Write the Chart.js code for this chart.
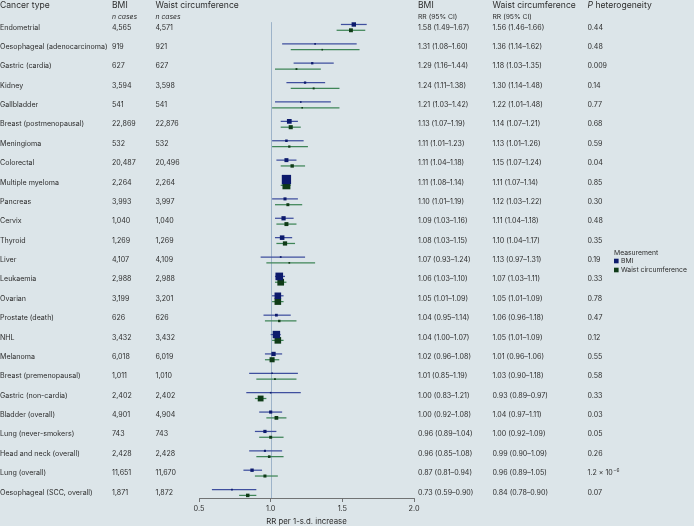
<!DOCTYPE html>
<html><head><meta charset="utf-8">
<script src="https://cdn.jsdelivr.net/npm/chart.js@4"></script>
<style>html,body{margin:0;padding:0;background:#dce5e9;}canvas{display:block;}</style>
</head><body>
<canvas id="c" width="694" height="526"></canvas>
<script>
const cancers = ['Endometrial','Oesophageal (adenocarcinoma)','Gastric (cardia)','Kidney','Gallbladder','Breast (postmenopausal)','Meningioma','Colorectal','Multiple myeloma','Pancreas','Cervix','Thyroid','Liver','Leukaemia','Ovarian','Prostate (death)','NHL','Melanoma','Breast (premenopausal)','Gastric (non-cardia)','Bladder (overall)','Lung (never-smokers)','Head and neck (overall)','Lung (overall)','Oesophageal (SCC, overall)'];
const nBMI = [4565,919,627,3594,541,22869,532,20487,2264,3993,1040,1269,4107,2988,3199,626,3432,6018,1011,2402,4901,743,2428,11651,1871];
const nWaist = [4571,921,627,3598,541,22876,532,20496,2264,3997,1040,1269,4109,2988,3201,626,3432,6019,1010,2402,4904,743,2428,11670,1872];
const bmiRR = [1.58,1.31,1.29,1.24,1.21,1.13,1.11,1.11,1.11,1.10,1.09,1.08,1.07,1.06,1.05,1.04,1.04,1.02,1.01,1.00,1.00,0.96,0.96,0.87,0.73];
const bmiLo = [1.49,1.08,1.16,1.11,1.03,1.07,1.01,1.04,1.08,1.01,1.03,1.03,0.93,1.03,1.01,0.95,1.00,0.96,0.85,0.83,0.92,0.89,0.85,0.81,0.59];
const bmiHi = [1.67,1.60,1.44,1.38,1.42,1.19,1.23,1.18,1.14,1.19,1.16,1.15,1.24,1.10,1.09,1.14,1.07,1.08,1.19,1.21,1.08,1.04,1.08,0.94,0.90];
const waistRR = [1.56,1.36,1.18,1.30,1.22,1.14,1.13,1.15,1.11,1.12,1.11,1.10,1.13,1.07,1.05,1.06,1.05,1.01,1.03,0.93,1.04,1.00,0.99,0.96,0.84];
const waistLo = [1.46,1.14,1.03,1.14,1.01,1.07,1.01,1.07,1.07,1.03,1.04,1.04,0.97,1.03,1.01,0.96,1.01,0.96,0.90,0.89,0.97,0.92,0.90,0.89,0.78];
const waistHi = [1.66,1.62,1.35,1.48,1.48,1.21,1.26,1.24,1.14,1.22,1.18,1.17,1.31,1.11,1.09,1.18,1.09,1.06,1.18,0.97,1.11,1.09,1.09,1.05,0.90];
const pHet = ['0.44','0.48','0.009','0.14','0.77','0.68','0.59','0.04','0.85','0.30','0.48','0.35','0.19','0.33','0.78','0.47','0.12','0.55','0.58','0.33','0.03','0.05','0.26','1.2 × 10^−6','0.07'];
const xTicks = [0.5, 1.0, 1.5, 2.0];

const FONT = 'Inter, "Noto Sans", sans-serif';
const TEXT = '#2d2d2d';
const BMI_LINE = '#3f4f9e', BMI_MARK = '#0c1a6c';
const WC_LINE = '#3f8557', WC_MARK = '#0f3b17';
const OFF = 0.15;
const BODY = '7.1px ';

function side(lo, hi) { const se = (Math.log(hi) - Math.log(lo)) / 3.92; return Math.max(1.6, 0.128 / se); }
function pts(rr, lo, hi, off) { return rr.map((v, i) => ({ x: v, y: i + off, lo: lo[i], hi: hi[i] })); }
const bmiPts = pts(bmiRR, bmiLo, bmiHi, -OFF);
const wcPts = pts(waistRR, waistLo, waistHi, OFF);

const errorBars = {
  id: 'errorBars',
  beforeDatasetsDraw(chart) {
    const { ctx, scales: { x, y } } = chart;
    ctx.save();
    ctx.strokeStyle = '#9db3c9'; ctx.lineWidth = 1;
    const rx = Math.round(x.getPixelForValue(1)) + 0.5;
    ctx.beginPath(); ctx.moveTo(rx, y.getPixelForValue(-0.27)); ctx.lineTo(rx, chart.chartArea.bottom); ctx.stroke();
    chart.data.datasets.forEach(ds => {
      ctx.strokeStyle = ds.ciColor; ctx.lineWidth = 1.25;
      ds.data.forEach(p => {
        const py = y.getPixelForValue(p.y);
        ctx.beginPath(); ctx.moveTo(x.getPixelForValue(p.lo), py); ctx.lineTo(x.getPixelForValue(p.hi), py); ctx.stroke();
      });
    });
    ctx.restore();
  }
};

const textCols = {
  id: 'textCols',
  afterDraw(chart) {
    const { ctx, scales: { y } } = chart;
    ctx.save();
    ctx.fillStyle = TEXT; ctx.textBaseline = 'middle'; ctx.textAlign = 'left';
    ctx.font = '8.6px ' + FONT;
    const h1 = 5;
    ctx.fillText('Cancer type', 0, h1);
    ctx.fillText('BMI', 112, h1);
    ctx.fillText('Waist circumference', 155.5, h1);
    ctx.fillText('BMI', 418, h1);
    ctx.fillText('Waist circumference', 492.5, h1);
    ctx.font = 'italic 8.6px ' + FONT;
    ctx.fillText('P', 587.5, h1);
    const pw = ctx.measureText('P ').width;
    ctx.font = '8.6px ' + FONT;
    ctx.fillText('heterogeneity', 587.5 + pw, h1);
    const h2 = 16.8;
    ctx.font = 'italic 6.8px ' + FONT;
    ctx.fillText('n cases', 112, h2);
    ctx.fillText('n cases', 155.5, h2);
    ctx.font = '6.8px ' + FONT;
    ctx.fillText('RR (95% CI)', 418, h2);
    ctx.fillText('RR (95% CI)', 492.5, h2);
    ctx.font = BODY + FONT;
    const f = v => v.toFixed(2);
    cancers.forEach((c, i) => {
      const py = y.getPixelForValue(i);
      ctx.fillText(c, 0, py);
      ctx.fillText(nBMI[i].toLocaleString('en-US'), 112, py);
      ctx.fillText(nWaist[i].toLocaleString('en-US'), 155.5, py);
      ctx.fillText(`${f(bmiRR[i])} (${f(bmiLo[i])}–${f(bmiHi[i])})`, 418, py);
      ctx.fillText(`${f(waistRR[i])} (${f(waistLo[i])}–${f(waistHi[i])})`, 492.5, py);
      const p = pHet[i];
      if (p.includes('^')) {
        const [base, exp] = p.split('^');
        ctx.fillText(base, 587.5, py);
        const w = ctx.measureText(base).width;
        ctx.font = '4.8px ' + FONT;
        ctx.fillText(exp, 587.5 + w + 0.5, py - 3);
        ctx.font = BODY + FONT;
      } else {
        ctx.fillText(p, 587.5, py);
      }
    });
    ctx.font = '6.8px ' + FONT;
    ctx.fillText('Measurement', 614, 252.5);
    ctx.fillStyle = BMI_MARK; ctx.fillRect(614, 258.7, 4.6, 4.6);
    ctx.fillStyle = WC_MARK; ctx.fillRect(614, 267.7, 4.6, 4.6);
    ctx.fillStyle = TEXT;
    ctx.fillText('BMI', 621, 261);
    ctx.fillText('Waist circumference', 621, 270);
    ctx.restore();
  }
};

new Chart(document.getElementById('c'), {
  type: 'scatter',
  data: {
    datasets: [
      { label: 'BMI', data: bmiPts, ciColor: BMI_LINE, backgroundColor: BMI_MARK, borderWidth: 0, pointStyle: 'rect',
        pointRadius: bmiPts.map(p => side(p.lo, p.hi) / Math.SQRT2), pointHoverRadius: bmiPts.map(p => side(p.lo, p.hi) / Math.SQRT2) },
      { label: 'Waist circumference', data: wcPts, ciColor: WC_LINE, backgroundColor: WC_MARK, borderWidth: 0, pointStyle: 'rect',
        pointRadius: wcPts.map(p => side(p.lo, p.hi) / Math.SQRT2), pointHoverRadius: wcPts.map(p => side(p.lo, p.hi) / Math.SQRT2) }
    ]
  },
  options: {
    responsive: false, animation: false, devicePixelRatio: 1,
    layout: { padding: { left: 199, right: 280, top: 8, bottom: 0 } },
    plugins: { legend: { display: false }, tooltip: { enabled: false } },
    scales: {
      x: {
        type: 'linear', min: 0.5, max: 2.0,
        afterBuildTicks: s => { s.ticks = xTicks.map(v => ({ value: v })); },
        afterFit: s => { s.height = 28; },
        ticks: { color: TEXT, font: { family: FONT, size: 7.3 }, padding: 2, callback: v => Number(v).toFixed(1), maxRotation: 0 },
        grid: { display: true, drawOnChartArea: false, drawTicks: true, tickLength: 4, color: '#555', lineWidth: 0.8 },
        border: { display: true, color: '#555', width: 0.8 },
        title: { display: true, text: 'RR per 1-s.d. increase', color: TEXT, font: { family: FONT, size: 7.8 }, padding: { top: 0, bottom: 0 } }
      },
      y: { type: 'linear', min: -1, max: 24.284, reverse: true, display: false }
    }
  },
  plugins: [errorBars, textCols]
});
</script>
</body></html>
